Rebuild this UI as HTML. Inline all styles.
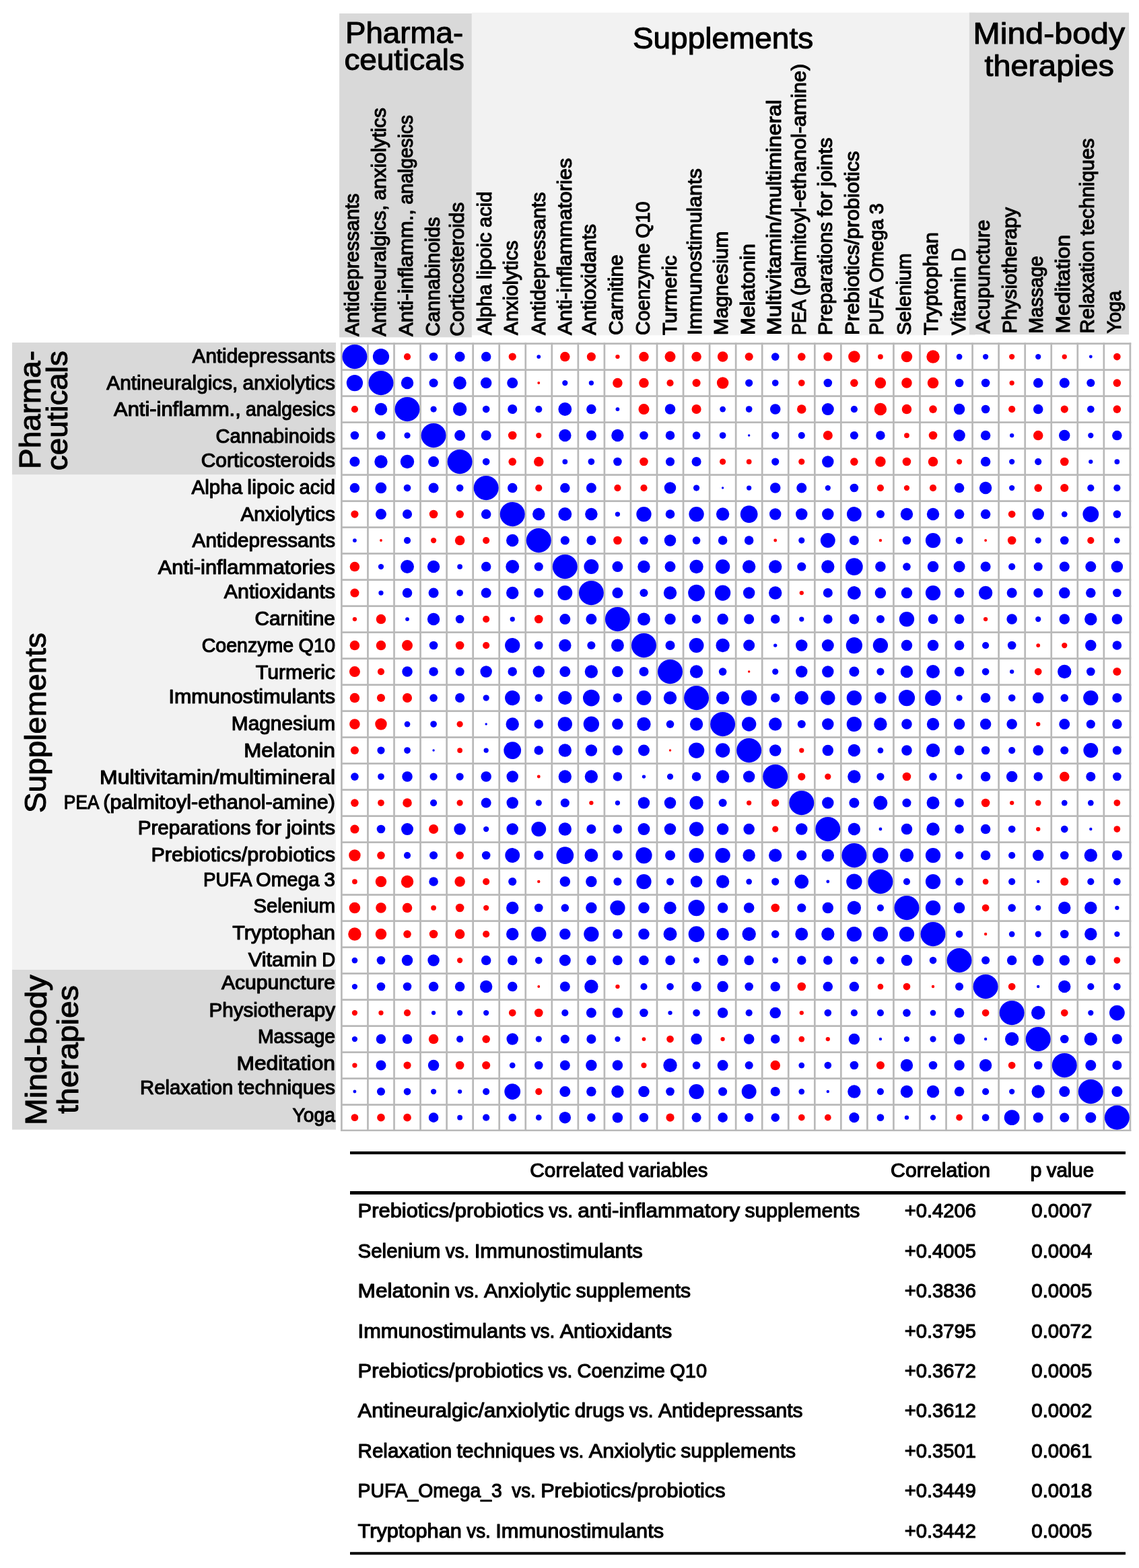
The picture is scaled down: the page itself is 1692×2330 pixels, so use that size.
<!DOCTYPE html>
<html lang="en"><head><meta charset="utf-8"><title>Correlation matrix</title>
<style>
html,body{margin:0;padding:0;background:#fff}
body{width:1692px;height:2330px;overflow:hidden}
svg{display:block}
text{font-family:"Liberation Sans",sans-serif;fill:#000;stroke:#000;stroke-linejoin:round;white-space:pre}
.l{font-size:29px;stroke-width:1.15px}
.c{font-size:29.3px;stroke-width:1.15px}
.t{font-size:43.5px;stroke-width:1.05px}
.b{fill:#0000ff}.r{fill:#ff0000}
.g{stroke:#b9b9b9;stroke-width:2.7;fill:none}
.k{stroke:#000;fill:none}
</style></head><body>
<svg width="1692" height="2330" viewBox="0 0 1692 2330" role="img" aria-label="Correlation matrix of pharmaceuticals, supplements and mind-body therapies">
<rect width="1692" height="2330" fill="#fff"/>
<g id="bands">
<rect x="700.8" y="18.7" width="747.8" height="479.6" fill="#f2f2f2"/>
<rect x="504.1" y="20" width="196.7" height="481.3" fill="#d9d9d9"/>
<rect x="1439.9" y="18.7" width="237.2" height="478.4" fill="#d9d9d9"/>
<rect x="18" y="705.2" width="481" height="736" fill="#f2f2f2"/>
<rect x="18" y="509" width="481" height="196.2" fill="#d9d9d9"/>
<rect x="18" y="1441" width="481" height="237.6" fill="#d9d9d9"/>
</g>
<g id="titles">
<text class="t" x="513" y="64.2" textLength="175.15" lengthAdjust="spacingAndGlyphs">Pharma-</text>
<text class="t" x="511.4" y="104" textLength="178.43" lengthAdjust="spacingAndGlyphs">ceuticals</text>
<text class="t" x="939.9" y="71.5" textLength="268.26" lengthAdjust="spacingAndGlyphs">Supplements</text>
<text class="t" x="1445.5" y="65.2" textLength="225.57" lengthAdjust="spacingAndGlyphs">Mind-body</text>
<text class="t" x="1462.5" y="113.1" textLength="192.48" lengthAdjust="spacingAndGlyphs">therapies</text>
<text class="t" transform="translate(59.7 697) rotate(-90)" x="0" y="0" textLength="176.15" lengthAdjust="spacingAndGlyphs">Pharma-</text>
<text class="t" transform="translate(99.5 699.2) rotate(-90)" x="0" y="0" textLength="178.03" lengthAdjust="spacingAndGlyphs">ceuticals</text>
<text class="t" transform="translate(67.9 1208) rotate(-90)" x="0" y="0" textLength="267.96" lengthAdjust="spacingAndGlyphs">Supplements</text>
<text class="t" transform="translate(68.7 1672.1) rotate(-90)" x="0" y="0" textLength="223.67" lengthAdjust="spacingAndGlyphs">Mind-body</text>
<text class="t" transform="translate(115.6 1655.1) rotate(-90)" x="0" y="0" textLength="191.08" lengthAdjust="spacingAndGlyphs">therapies</text>
</g>
<g id="rows">
<text class="l"><tspan x="285.63" y="538.7" textLength="212.37" lengthAdjust="spacingAndGlyphs">Antidepressants</tspan></text>
<text class="l"><tspan x="158.33" y="578.8" textLength="195" lengthAdjust="spacingAndGlyphs">Antineuralgics,</tspan> <tspan x="360.63" y="578.8" textLength="137.37" lengthAdjust="spacingAndGlyphs">anxiolytics</tspan></text>
<text class="l"><tspan x="169.12" y="617.9" textLength="188.66" lengthAdjust="spacingAndGlyphs">Anti-inflamm.,</tspan> <tspan x="365.09" y="617.9" textLength="132.91" lengthAdjust="spacingAndGlyphs">analgesics</tspan></text>
<text class="l"><tspan x="320.61" y="658.1" textLength="177.39" lengthAdjust="spacingAndGlyphs">Cannabinoids</tspan></text>
<text class="l"><tspan x="298.77" y="694" textLength="199.23" lengthAdjust="spacingAndGlyphs">Corticosteroids</tspan></text>
<text class="l"><tspan x="284.59" y="734.1" textLength="75.49" lengthAdjust="spacingAndGlyphs">Alpha</tspan> <tspan x="367.38" y="734.1" textLength="69.83" lengthAdjust="spacingAndGlyphs">lipoic</tspan> <tspan x="444.51" y="734.1" textLength="53.49" lengthAdjust="spacingAndGlyphs">acid</tspan></text>
<text class="l"><tspan x="357.4" y="773.8" textLength="140.6" lengthAdjust="spacingAndGlyphs">Anxiolytics</tspan></text>
<text class="l"><tspan x="285.63" y="813.3" textLength="212.37" lengthAdjust="spacingAndGlyphs">Antidepressants</tspan></text>
<text class="l"><tspan x="234.85" y="852.9" textLength="263.15" lengthAdjust="spacingAndGlyphs">Anti-inflammatories</tspan></text>
<text class="l"><tspan x="332.88" y="889.3" textLength="165.12" lengthAdjust="spacingAndGlyphs">Antioxidants</tspan></text>
<text class="l"><tspan x="378.43" y="929.2" textLength="119.57" lengthAdjust="spacingAndGlyphs">Carnitine</tspan></text>
<text class="l"><tspan x="299.65" y="968.9" textLength="136.56" lengthAdjust="spacingAndGlyphs">Coenzyme</tspan> <tspan x="443.51" y="968.9" textLength="54.49" lengthAdjust="spacingAndGlyphs">Q10</tspan></text>
<text class="l"><tspan x="379.81" y="1009.4" textLength="118.19" lengthAdjust="spacingAndGlyphs">Turmeric</tspan></text>
<text class="l"><tspan x="250.42" y="1045.4" textLength="247.58" lengthAdjust="spacingAndGlyphs">Immunostimulants</tspan></text>
<text class="l"><tspan x="343.86" y="1084.9" textLength="154.14" lengthAdjust="spacingAndGlyphs">Magnesium</tspan></text>
<text class="l"><tspan x="362.28" y="1125" textLength="135.72" lengthAdjust="spacingAndGlyphs">Melatonin</tspan></text>
<text class="l"><tspan x="148.13" y="1164.5" textLength="349.87" lengthAdjust="spacingAndGlyphs">Multivitamin/multimineral</tspan></text>
<text class="l"><tspan x="94.86" y="1201.5" textLength="51.16" lengthAdjust="spacingAndGlyphs">PEA</tspan> <tspan x="153.33" y="1201.5" textLength="344.67" lengthAdjust="spacingAndGlyphs">(palmitoyl-ethanol-amine)</tspan></text>
<text class="l"><tspan x="204.65" y="1240.3" textLength="168.06" lengthAdjust="spacingAndGlyphs">Preparations</tspan> <tspan x="380.01" y="1240.3" textLength="38.15" lengthAdjust="spacingAndGlyphs">for</tspan> <tspan x="425.45" y="1240.3" textLength="72.55" lengthAdjust="spacingAndGlyphs">joints</tspan></text>
<text class="l"><tspan x="224.45" y="1279.8" textLength="273.55" lengthAdjust="spacingAndGlyphs">Prebiotics/probiotics</tspan></text>
<text class="l"><tspan x="302.1" y="1316.8" textLength="70.96" lengthAdjust="spacingAndGlyphs">PUFA</tspan> <tspan x="380.36" y="1316.8" textLength="93.96" lengthAdjust="spacingAndGlyphs">Omega</tspan> <tspan x="481.62" y="1316.8" textLength="16.38" lengthAdjust="spacingAndGlyphs">3</tspan></text>
<text class="l"><tspan x="376.49" y="1356.2" textLength="121.51" lengthAdjust="spacingAndGlyphs">Selenium</tspan></text>
<text class="l"><tspan x="345.22" y="1396.1" textLength="152.78" lengthAdjust="spacingAndGlyphs">Tryptophan</tspan></text>
<text class="l"><tspan x="368.67" y="1435.8" textLength="102.16" lengthAdjust="spacingAndGlyphs">Vitamin</tspan> <tspan x="478.14" y="1435.8" textLength="19.86" lengthAdjust="spacingAndGlyphs">D</tspan></text>
<text class="l"><tspan x="329.01" y="1470.4" textLength="168.99" lengthAdjust="spacingAndGlyphs">Acupuncture</tspan></text>
<text class="l"><tspan x="310.47" y="1510.5" textLength="187.53" lengthAdjust="spacingAndGlyphs">Physiotherapy</tspan></text>
<text class="l"><tspan x="382.88" y="1550.2" textLength="115.12" lengthAdjust="spacingAndGlyphs">Massage</tspan></text>
<text class="l"><tspan x="351.45" y="1590.1" textLength="146.55" lengthAdjust="spacingAndGlyphs">Meditation</tspan></text>
<text class="l"><tspan x="208.04" y="1625.8" textLength="138.15" lengthAdjust="spacingAndGlyphs">Relaxation</tspan> <tspan x="353.49" y="1625.8" textLength="144.51" lengthAdjust="spacingAndGlyphs">techniques</tspan></text>
<text class="l"><tspan x="434.56" y="1666.6" textLength="63.44" lengthAdjust="spacingAndGlyphs">Yoga</tspan></text>
</g>
<g id="cols">
<text class="l" transform="translate(533.3 499.8) rotate(-90)"><tspan x="0" y="0" textLength="212.37" lengthAdjust="spacingAndGlyphs">Antidepressants</tspan></text>
<text class="l" transform="translate(573 499.8) rotate(-90)"><tspan x="0" y="0" textLength="195" lengthAdjust="spacingAndGlyphs">Antineuralgics,</tspan> <tspan x="202.29" y="0" textLength="137.37" lengthAdjust="spacingAndGlyphs">anxiolytics</tspan></text>
<text class="l" transform="translate(613 499.8) rotate(-90)"><tspan x="0" y="0" textLength="188.66" lengthAdjust="spacingAndGlyphs">Anti-inflamm.,</tspan> <tspan x="195.96" y="0" textLength="132.91" lengthAdjust="spacingAndGlyphs">analgesics</tspan></text>
<text class="l" transform="translate(653.1 499.8) rotate(-90)"><tspan x="0" y="0" textLength="177.39" lengthAdjust="spacingAndGlyphs">Cannabinoids</tspan></text>
<text class="l" transform="translate(689.2 499.8) rotate(-90)"><tspan x="0" y="0" textLength="199.23" lengthAdjust="spacingAndGlyphs">Corticosteroids</tspan></text>
<text class="l" transform="translate(730.2 497.9) rotate(-90)"><tspan x="0" y="0" textLength="75.49" lengthAdjust="spacingAndGlyphs">Alpha</tspan> <tspan x="82.78" y="0" textLength="69.83" lengthAdjust="spacingAndGlyphs">lipoic</tspan> <tspan x="159.92" y="0" textLength="53.49" lengthAdjust="spacingAndGlyphs">acid</tspan></text>
<text class="l" transform="translate(768.8 497.9) rotate(-90)"><tspan x="0" y="0" textLength="140.6" lengthAdjust="spacingAndGlyphs">Anxiolytics</tspan></text>
<text class="l" transform="translate(809.8 497.9) rotate(-90)"><tspan x="0" y="0" textLength="212.37" lengthAdjust="spacingAndGlyphs">Antidepressants</tspan></text>
<text class="l" transform="translate(849.3 497.9) rotate(-90)"><tspan x="0" y="0" textLength="263.15" lengthAdjust="spacingAndGlyphs">Anti-inflammatories</tspan></text>
<text class="l" transform="translate(885.2 497.9) rotate(-90)"><tspan x="0" y="0" textLength="165.12" lengthAdjust="spacingAndGlyphs">Antioxidants</tspan></text>
<text class="l" transform="translate(924.9 497.9) rotate(-90)"><tspan x="0" y="0" textLength="119.57" lengthAdjust="spacingAndGlyphs">Carnitine</tspan></text>
<text class="l" transform="translate(965.4 497.9) rotate(-90)"><tspan x="0" y="0" textLength="136.56" lengthAdjust="spacingAndGlyphs">Coenzyme</tspan> <tspan x="143.86" y="0" textLength="54.49" lengthAdjust="spacingAndGlyphs">Q10</tspan></text>
<text class="l" transform="translate(1005.1 497.9) rotate(-90)"><tspan x="0" y="0" textLength="118.19" lengthAdjust="spacingAndGlyphs">Turmeric</tspan></text>
<text class="l" transform="translate(1041.5 497.9) rotate(-90)"><tspan x="0" y="0" textLength="247.58" lengthAdjust="spacingAndGlyphs">Immunostimulants</tspan></text>
<text class="l" transform="translate(1081.1 497.9) rotate(-90)"><tspan x="0" y="0" textLength="154.14" lengthAdjust="spacingAndGlyphs">Magnesium</tspan></text>
<text class="l" transform="translate(1121.1 497.9) rotate(-90)"><tspan x="0" y="0" textLength="135.72" lengthAdjust="spacingAndGlyphs">Melatonin</tspan></text>
<text class="l" transform="translate(1160.3 497.9) rotate(-90)"><tspan x="0" y="0" textLength="349.87" lengthAdjust="spacingAndGlyphs">Multivitamin/multimineral</tspan></text>
<text class="l" transform="translate(1197.1 497.9) rotate(-90)"><tspan x="0" y="0" textLength="51.16" lengthAdjust="spacingAndGlyphs">PEA</tspan> <tspan x="58.46" y="0" textLength="344.67" lengthAdjust="spacingAndGlyphs">(palmitoyl-ethanol-amine)</tspan></text>
<text class="l" transform="translate(1236.2 497.9) rotate(-90)"><tspan x="0" y="0" textLength="168.06" lengthAdjust="spacingAndGlyphs">Preparations</tspan> <tspan x="175.36" y="0" textLength="38.15" lengthAdjust="spacingAndGlyphs">for</tspan> <tspan x="220.8" y="0" textLength="72.55" lengthAdjust="spacingAndGlyphs">joints</tspan></text>
<text class="l" transform="translate(1276 497.9) rotate(-90)"><tspan x="0" y="0" textLength="273.55" lengthAdjust="spacingAndGlyphs">Prebiotics/probiotics</tspan></text>
<text class="l" transform="translate(1312 497.9) rotate(-90)"><tspan x="0" y="0" textLength="70.96" lengthAdjust="spacingAndGlyphs">PUFA</tspan> <tspan x="78.26" y="0" textLength="93.96" lengthAdjust="spacingAndGlyphs">Omega</tspan> <tspan x="179.52" y="0" textLength="16.38" lengthAdjust="spacingAndGlyphs">3</tspan></text>
<text class="l" transform="translate(1352.5 497.9) rotate(-90)"><tspan x="0" y="0" textLength="121.51" lengthAdjust="spacingAndGlyphs">Selenium</tspan></text>
<text class="l" transform="translate(1392.9 497.9) rotate(-90)"><tspan x="0" y="0" textLength="152.78" lengthAdjust="spacingAndGlyphs">Tryptophan</tspan></text>
<text class="l" transform="translate(1433.5 497.9) rotate(-90)"><tspan x="0" y="0" textLength="102.16" lengthAdjust="spacingAndGlyphs">Vitamin</tspan> <tspan x="109.46" y="0" textLength="19.86" lengthAdjust="spacingAndGlyphs">D</tspan></text>
<text class="l" transform="translate(1469.5 495.4) rotate(-90)"><tspan x="0" y="0" textLength="168.99" lengthAdjust="spacingAndGlyphs">Acupuncture</tspan></text>
<text class="l" transform="translate(1509.6 495.4) rotate(-90)"><tspan x="0" y="0" textLength="187.53" lengthAdjust="spacingAndGlyphs">Physiotherapy</tspan></text>
<text class="l" transform="translate(1549.3 495.4) rotate(-90)"><tspan x="0" y="0" textLength="115.12" lengthAdjust="spacingAndGlyphs">Massage</tspan></text>
<text class="l" transform="translate(1589.4 495.4) rotate(-90)"><tspan x="0" y="0" textLength="146.55" lengthAdjust="spacingAndGlyphs">Meditation</tspan></text>
<text class="l" transform="translate(1625.3 495.4) rotate(-90)"><tspan x="0" y="0" textLength="138.15" lengthAdjust="spacingAndGlyphs">Relaxation</tspan> <tspan x="145.45" y="0" textLength="144.51" lengthAdjust="spacingAndGlyphs">techniques</tspan></text>
<text class="l" transform="translate(1665.3 495.4) rotate(-90)"><tspan x="0" y="0" textLength="63.44" lengthAdjust="spacingAndGlyphs">Yoga</tspan></text>
</g>
<g id="grid">
<rect x="507.4" y="510.55" width="1171.5" height="1169.2" fill="#fff"/>
<path class="g" d="M506.05 510.55H1680.25M506.05 549.55H1680.25M506.05 588.55H1680.25M506.05 627.55H1680.25M506.05 666.55H1680.25M506.05 705.55H1680.25M506.05 744.55H1680.25M506.05 783.55H1680.25M506.05 822.55H1680.25M506.05 861.55H1680.25M506.05 900.55H1680.25M506.05 939.55H1680.25M506.05 978.55H1680.25M506.05 1017.55H1680.25M506.05 1056.55H1680.25M506.05 1095.55H1680.25M506.05 1134.55H1680.25M506.05 1173.55H1680.25M506.05 1212.55H1680.25M506.05 1251.55H1680.25M506.05 1290.55H1680.25M506.05 1329.55H1680.25M506.05 1368.55H1680.25M506.05 1407.55H1680.25M506.05 1446.55H1680.25M506.05 1485.55H1680.25M506.05 1524.55H1680.25M506.05 1563.55H1680.25M506.05 1602.55H1680.25M506.05 1641.55H1680.25M506.05 1679.75H1680.25"/>
<path class="g" stroke-width="2.5" d="M507.4 509.2V1681.1M546.45 509.2V1681.1M585.5 509.2V1681.1M624.55 509.2V1681.1M663.6 509.2V1681.1M702.65 509.2V1681.1M741.7 509.2V1681.1M780.75 509.2V1681.1M819.8 509.2V1681.1M858.85 509.2V1681.1M897.9 509.2V1681.1M936.95 509.2V1681.1M976 509.2V1681.1M1015.05 509.2V1681.1M1054.1 509.2V1681.1M1093.15 509.2V1681.1M1132.2 509.2V1681.1M1171.25 509.2V1681.1M1210.3 509.2V1681.1M1249.35 509.2V1681.1M1288.4 509.2V1681.1M1327.45 509.2V1681.1M1366.5 509.2V1681.1M1405.55 509.2V1681.1M1444.6 509.2V1681.1M1483.65 509.2V1681.1M1522.7 509.2V1681.1M1561.75 509.2V1681.1M1600.8 509.2V1681.1M1639.85 509.2V1681.1M1678.9 509.2V1681.1"/>
</g>
<g id="dots">
<ellipse class="b" cx="526.92" cy="530.05" rx="18.5" ry="18.1"/><circle class="b" cx="565.97" cy="530.05" r="12.14"/><circle class="r" cx="605.02" cy="530.05" r="5.1"/><circle class="b" cx="644.07" cy="530.05" r="6.31"/><circle class="b" cx="683.12" cy="530.05" r="7.53"/><circle class="b" cx="722.17" cy="530.05" r="7.29"/><circle class="r" cx="761.22" cy="530.05" r="5.59"/><circle class="b" cx="800.27" cy="530.05" r="2.91"/><circle class="r" cx="839.32" cy="530.05" r="7.29"/><circle class="r" cx="878.38" cy="530.05" r="6.56"/><circle class="r" cx="917.42" cy="530.05" r="3.16"/><circle class="r" cx="956.47" cy="530.05" r="7.29"/><circle class="r" cx="995.52" cy="530.05" r="8.01"/><circle class="r" cx="1034.57" cy="530.05" r="7.29"/><circle class="r" cx="1073.62" cy="530.05" r="7.77"/><circle class="r" cx="1112.67" cy="530.05" r="6.07"/><circle class="b" cx="1151.72" cy="530.05" r="5.83"/><circle class="r" cx="1190.78" cy="530.05" r="5.83"/><circle class="r" cx="1229.82" cy="530.05" r="6.56"/><circle class="r" cx="1268.88" cy="530.05" r="8.74"/><circle class="r" cx="1307.92" cy="530.05" r="3.89"/><circle class="r" cx="1346.97" cy="530.05" r="8.26"/><circle class="r" cx="1386.03" cy="530.05" r="9.71"/><circle class="b" cx="1425.07" cy="530.05" r="4.37"/><circle class="b" cx="1464.12" cy="530.05" r="4.13"/><circle class="r" cx="1503.17" cy="530.05" r="4.13"/><circle class="b" cx="1542.22" cy="530.05" r="4.13"/><circle class="r" cx="1581.27" cy="530.05" r="3.64"/><circle class="b" cx="1620.32" cy="530.05" r="2.43"/><circle class="r" cx="1659.38" cy="530.05" r="5.34"/>
<circle class="b" cx="526.92" cy="569.05" r="12.14"/><ellipse class="b" cx="565.97" cy="569.05" rx="18.5" ry="18.1"/><circle class="b" cx="605.02" cy="569.05" r="9.23"/><circle class="b" cx="644.07" cy="569.05" r="6.56"/><circle class="b" cx="683.12" cy="569.05" r="9.71"/><circle class="b" cx="722.17" cy="569.05" r="8.26"/><circle class="b" cx="761.22" cy="569.05" r="8.01"/><circle class="r" cx="800.27" cy="569.05" r="1.94"/><circle class="b" cx="839.32" cy="569.05" r="4.13"/><circle class="b" cx="878.38" cy="569.05" r="3.64"/><circle class="r" cx="917.42" cy="569.05" r="7.29"/><circle class="r" cx="956.47" cy="569.05" r="7.29"/><circle class="r" cx="995.52" cy="569.05" r="5.1"/><circle class="r" cx="1034.57" cy="569.05" r="6.07"/><circle class="r" cx="1073.62" cy="569.05" r="8.74"/><circle class="b" cx="1112.67" cy="569.05" r="5.59"/><circle class="b" cx="1151.72" cy="569.05" r="4.86"/><circle class="r" cx="1190.78" cy="569.05" r="4.86"/><circle class="b" cx="1229.82" cy="569.05" r="6.31"/><circle class="r" cx="1268.88" cy="569.05" r="5.83"/><circle class="r" cx="1307.92" cy="569.05" r="8.26"/><circle class="r" cx="1346.97" cy="569.05" r="7.77"/><circle class="r" cx="1386.03" cy="569.05" r="8.26"/><circle class="b" cx="1425.07" cy="569.05" r="6.31"/><circle class="b" cx="1464.12" cy="569.05" r="6.31"/><circle class="r" cx="1503.17" cy="569.05" r="3.64"/><circle class="b" cx="1542.22" cy="569.05" r="7.29"/><circle class="b" cx="1581.27" cy="569.05" r="7.53"/><circle class="b" cx="1620.32" cy="569.05" r="6.07"/><circle class="r" cx="1659.38" cy="569.05" r="5.83"/>
<circle class="r" cx="526.92" cy="608.05" r="5.1"/><circle class="b" cx="565.97" cy="608.05" r="9.23"/><ellipse class="b" cx="605.02" cy="608.05" rx="18.5" ry="18.1"/><circle class="b" cx="644.07" cy="608.05" r="4.61"/><circle class="b" cx="683.12" cy="608.05" r="10.2"/><circle class="b" cx="722.17" cy="608.05" r="5.34"/><circle class="b" cx="761.22" cy="608.05" r="7.04"/><circle class="b" cx="800.27" cy="608.05" r="5.1"/><circle class="b" cx="839.32" cy="608.05" r="9.96"/><circle class="b" cx="878.38" cy="608.05" r="7.29"/><circle class="b" cx="917.42" cy="608.05" r="2.91"/><circle class="r" cx="956.47" cy="608.05" r="8.01"/><circle class="b" cx="995.52" cy="608.05" r="7.77"/><circle class="r" cx="1034.57" cy="608.05" r="7.04"/><circle class="b" cx="1073.62" cy="608.05" r="4.37"/><circle class="b" cx="1112.67" cy="608.05" r="4.86"/><circle class="b" cx="1151.72" cy="608.05" r="7.77"/><circle class="r" cx="1190.78" cy="608.05" r="6.8"/><circle class="b" cx="1229.82" cy="608.05" r="8.99"/><circle class="b" cx="1268.88" cy="608.05" r="5.1"/><circle class="r" cx="1307.92" cy="608.05" r="9.23"/><circle class="r" cx="1346.97" cy="608.05" r="7.29"/><circle class="r" cx="1386.03" cy="608.05" r="5.83"/><circle class="b" cx="1425.07" cy="608.05" r="8.26"/><circle class="b" cx="1464.12" cy="608.05" r="6.31"/><circle class="r" cx="1503.17" cy="608.05" r="5.1"/><circle class="b" cx="1542.22" cy="608.05" r="7.29"/><circle class="r" cx="1581.27" cy="608.05" r="5.59"/><circle class="b" cx="1620.32" cy="608.05" r="5.34"/><circle class="r" cx="1659.38" cy="608.05" r="5.83"/>
<circle class="b" cx="526.92" cy="647.05" r="6.31"/><circle class="b" cx="565.97" cy="647.05" r="6.56"/><circle class="b" cx="605.02" cy="647.05" r="4.61"/><ellipse class="b" cx="644.07" cy="647.05" rx="18.5" ry="18.1"/><circle class="b" cx="683.12" cy="647.05" r="8.01"/><circle class="b" cx="722.17" cy="647.05" r="7.53"/><circle class="r" cx="761.22" cy="647.05" r="6.31"/><circle class="r" cx="800.27" cy="647.05" r="4.13"/><circle class="b" cx="839.32" cy="647.05" r="9.23"/><circle class="b" cx="878.38" cy="647.05" r="7.53"/><circle class="b" cx="917.42" cy="647.05" r="9.23"/><circle class="b" cx="956.47" cy="647.05" r="6.31"/><circle class="b" cx="995.52" cy="647.05" r="6.8"/><circle class="b" cx="1034.57" cy="647.05" r="5.83"/><circle class="b" cx="1073.62" cy="647.05" r="4.86"/><circle class="b" cx="1112.67" cy="647.05" r="1.7"/><circle class="b" cx="1151.72" cy="647.05" r="5.59"/><circle class="b" cx="1190.78" cy="647.05" r="5.1"/><circle class="r" cx="1229.82" cy="647.05" r="7.04"/><circle class="b" cx="1268.88" cy="647.05" r="6.07"/><circle class="b" cx="1307.92" cy="647.05" r="6.8"/><circle class="r" cx="1346.97" cy="647.05" r="3.89"/><circle class="r" cx="1386.03" cy="647.05" r="6.31"/><circle class="b" cx="1425.07" cy="647.05" r="8.74"/><circle class="b" cx="1464.12" cy="647.05" r="7.29"/><circle class="b" cx="1503.17" cy="647.05" r="3.16"/><circle class="r" cx="1542.22" cy="647.05" r="7.29"/><circle class="b" cx="1581.27" cy="647.05" r="8.26"/><circle class="b" cx="1620.32" cy="647.05" r="4.13"/><circle class="b" cx="1659.38" cy="647.05" r="7.29"/>
<circle class="b" cx="526.92" cy="686.05" r="7.53"/><circle class="b" cx="565.97" cy="686.05" r="9.71"/><circle class="b" cx="605.02" cy="686.05" r="10.2"/><circle class="b" cx="644.07" cy="686.05" r="8.01"/><ellipse class="b" cx="683.12" cy="686.05" rx="18.5" ry="18.1"/><circle class="b" cx="722.17" cy="686.05" r="5.34"/><circle class="r" cx="761.22" cy="686.05" r="5.83"/><circle class="r" cx="800.27" cy="686.05" r="7.29"/><circle class="b" cx="839.32" cy="686.05" r="3.89"/><circle class="b" cx="878.38" cy="686.05" r="4.86"/><circle class="b" cx="917.42" cy="686.05" r="6.31"/><circle class="r" cx="956.47" cy="686.05" r="6.31"/><circle class="b" cx="995.52" cy="686.05" r="6.56"/><circle class="b" cx="1034.57" cy="686.05" r="7.04"/><circle class="r" cx="1073.62" cy="686.05" r="4.61"/><circle class="r" cx="1112.67" cy="686.05" r="3.89"/><circle class="b" cx="1151.72" cy="686.05" r="5.59"/><circle class="r" cx="1190.78" cy="686.05" r="4.61"/><circle class="b" cx="1229.82" cy="686.05" r="8.74"/><circle class="r" cx="1268.88" cy="686.05" r="5.83"/><circle class="r" cx="1307.92" cy="686.05" r="7.77"/><circle class="r" cx="1346.97" cy="686.05" r="6.31"/><circle class="r" cx="1386.03" cy="686.05" r="7.29"/><circle class="r" cx="1425.07" cy="686.05" r="4.13"/><circle class="b" cx="1464.12" cy="686.05" r="7.29"/><circle class="b" cx="1503.17" cy="686.05" r="4.13"/><circle class="b" cx="1542.22" cy="686.05" r="5.1"/><circle class="r" cx="1581.27" cy="686.05" r="6.31"/><circle class="b" cx="1620.32" cy="686.05" r="3.16"/><circle class="b" cx="1659.38" cy="686.05" r="3.89"/>
<circle class="b" cx="526.92" cy="725.05" r="7.29"/><circle class="b" cx="565.97" cy="725.05" r="8.26"/><circle class="b" cx="605.02" cy="725.05" r="5.34"/><circle class="b" cx="644.07" cy="725.05" r="7.53"/><circle class="b" cx="683.12" cy="725.05" r="5.34"/><ellipse class="b" cx="722.17" cy="725.05" rx="18.5" ry="18.1"/><circle class="b" cx="761.22" cy="725.05" r="7.29"/><circle class="r" cx="800.27" cy="725.05" r="5.1"/><circle class="b" cx="839.32" cy="725.05" r="7.29"/><circle class="b" cx="878.38" cy="725.05" r="7.53"/><circle class="r" cx="917.42" cy="725.05" r="5.1"/><circle class="r" cx="956.47" cy="725.05" r="5.1"/><circle class="b" cx="995.52" cy="725.05" r="8.74"/><circle class="b" cx="1034.57" cy="725.05" r="4.61"/><circle class="b" cx="1073.62" cy="725.05" r="1.7"/><circle class="b" cx="1112.67" cy="725.05" r="3.64"/><circle class="b" cx="1151.72" cy="725.05" r="7.77"/><circle class="b" cx="1190.78" cy="725.05" r="7.53"/><circle class="b" cx="1229.82" cy="725.05" r="4.13"/><circle class="b" cx="1268.88" cy="725.05" r="6.31"/><circle class="r" cx="1307.92" cy="725.05" r="5.1"/><circle class="r" cx="1346.97" cy="725.05" r="4.13"/><circle class="r" cx="1386.03" cy="725.05" r="5.1"/><circle class="b" cx="1425.07" cy="725.05" r="7.29"/><circle class="b" cx="1464.12" cy="725.05" r="9.23"/><circle class="b" cx="1503.17" cy="725.05" r="4.13"/><circle class="r" cx="1542.22" cy="725.05" r="5.83"/><circle class="r" cx="1581.27" cy="725.05" r="6.07"/><circle class="b" cx="1620.32" cy="725.05" r="5.1"/><circle class="b" cx="1659.38" cy="725.05" r="5.1"/>
<circle class="r" cx="526.92" cy="764.05" r="5.59"/><circle class="b" cx="565.97" cy="764.05" r="8.01"/><circle class="b" cx="605.02" cy="764.05" r="7.04"/><circle class="r" cx="644.07" cy="764.05" r="6.31"/><circle class="r" cx="683.12" cy="764.05" r="5.83"/><circle class="b" cx="722.17" cy="764.05" r="7.29"/><ellipse class="b" cx="761.22" cy="764.05" rx="18.5" ry="18.1"/><circle class="b" cx="800.27" cy="764.05" r="9.23"/><circle class="b" cx="839.32" cy="764.05" r="9.96"/><circle class="b" cx="878.38" cy="764.05" r="9.23"/><circle class="b" cx="917.42" cy="764.05" r="3.64"/><circle class="b" cx="956.47" cy="764.05" r="11.17"/><circle class="b" cx="995.52" cy="764.05" r="6.8"/><circle class="b" cx="1034.57" cy="764.05" r="11.17"/><circle class="b" cx="1073.62" cy="764.05" r="9.71"/><circle class="b" cx="1112.67" cy="764.05" r="12.87"/><circle class="b" cx="1151.72" cy="764.05" r="8.74"/><circle class="b" cx="1190.78" cy="764.05" r="8.74"/><circle class="b" cx="1229.82" cy="764.05" r="8.74"/><circle class="b" cx="1268.88" cy="764.05" r="10.93"/><circle class="b" cx="1307.92" cy="764.05" r="6.07"/><circle class="b" cx="1346.97" cy="764.05" r="9.23"/><circle class="b" cx="1386.03" cy="764.05" r="9.23"/><circle class="b" cx="1425.07" cy="764.05" r="7.29"/><circle class="b" cx="1464.12" cy="764.05" r="7.29"/><circle class="r" cx="1503.17" cy="764.05" r="5.34"/><circle class="b" cx="1542.22" cy="764.05" r="8.74"/><circle class="b" cx="1581.27" cy="764.05" r="4.37"/><circle class="b" cx="1620.32" cy="764.05" r="11.9"/><circle class="b" cx="1659.38" cy="764.05" r="5.83"/>
<circle class="b" cx="526.92" cy="803.05" r="2.91"/><circle class="r" cx="565.97" cy="803.05" r="1.94"/><circle class="b" cx="605.02" cy="803.05" r="5.1"/><circle class="r" cx="644.07" cy="803.05" r="4.13"/><circle class="r" cx="683.12" cy="803.05" r="7.29"/><circle class="r" cx="722.17" cy="803.05" r="5.1"/><circle class="b" cx="761.22" cy="803.05" r="9.23"/><ellipse class="b" cx="800.27" cy="803.05" rx="18.5" ry="18.1"/><circle class="b" cx="839.32" cy="803.05" r="6.56"/><circle class="b" cx="878.38" cy="803.05" r="7.04"/><circle class="r" cx="917.42" cy="803.05" r="6.31"/><circle class="b" cx="956.47" cy="803.05" r="6.31"/><circle class="b" cx="995.52" cy="803.05" r="8.74"/><circle class="b" cx="1034.57" cy="803.05" r="5.83"/><circle class="b" cx="1073.62" cy="803.05" r="6.8"/><circle class="b" cx="1112.67" cy="803.05" r="6.8"/><circle class="r" cx="1151.72" cy="803.05" r="2.43"/><circle class="b" cx="1190.78" cy="803.05" r="4.61"/><circle class="b" cx="1229.82" cy="803.05" r="10.93"/><circle class="b" cx="1268.88" cy="803.05" r="7.04"/><circle class="r" cx="1307.92" cy="803.05" r="2.19"/><circle class="b" cx="1346.97" cy="803.05" r="6.31"/><circle class="b" cx="1386.03" cy="803.05" r="11.17"/><circle class="b" cx="1425.07" cy="803.05" r="5.34"/><circle class="r" cx="1464.12" cy="803.05" r="1.94"/><circle class="r" cx="1503.17" cy="803.05" r="6.31"/><circle class="b" cx="1542.22" cy="803.05" r="4.61"/><circle class="b" cx="1581.27" cy="803.05" r="6.31"/><circle class="r" cx="1620.32" cy="803.05" r="5.1"/><circle class="b" cx="1659.38" cy="803.05" r="4.37"/>
<circle class="r" cx="526.92" cy="842.05" r="7.29"/><circle class="b" cx="565.97" cy="842.05" r="4.13"/><circle class="b" cx="605.02" cy="842.05" r="9.96"/><circle class="b" cx="644.07" cy="842.05" r="9.23"/><circle class="b" cx="683.12" cy="842.05" r="3.89"/><circle class="b" cx="722.17" cy="842.05" r="7.29"/><circle class="b" cx="761.22" cy="842.05" r="9.96"/><circle class="b" cx="800.27" cy="842.05" r="6.56"/><ellipse class="b" cx="839.32" cy="842.05" rx="18.5" ry="18.1"/><circle class="b" cx="878.38" cy="842.05" r="10.93"/><circle class="b" cx="917.42" cy="842.05" r="8.01"/><circle class="b" cx="956.47" cy="842.05" r="9.23"/><circle class="b" cx="995.52" cy="842.05" r="8.01"/><circle class="b" cx="1034.57" cy="842.05" r="10.2"/><circle class="b" cx="1073.62" cy="842.05" r="10.69"/><circle class="b" cx="1112.67" cy="842.05" r="9.71"/><circle class="b" cx="1151.72" cy="842.05" r="9.71"/><circle class="b" cx="1190.78" cy="842.05" r="6.56"/><circle class="b" cx="1229.82" cy="842.05" r="9.71"/><circle class="b" cx="1268.88" cy="842.05" r="12.87"/><circle class="b" cx="1307.92" cy="842.05" r="7.77"/><circle class="b" cx="1346.97" cy="842.05" r="5.83"/><circle class="b" cx="1386.03" cy="842.05" r="8.26"/><circle class="b" cx="1425.07" cy="842.05" r="8.5"/><circle class="b" cx="1464.12" cy="842.05" r="7.53"/><circle class="b" cx="1503.17" cy="842.05" r="5.1"/><circle class="b" cx="1542.22" cy="842.05" r="6.56"/><circle class="b" cx="1581.27" cy="842.05" r="7.53"/><circle class="b" cx="1620.32" cy="842.05" r="8.01"/><circle class="b" cx="1659.38" cy="842.05" r="8.74"/>
<circle class="r" cx="526.92" cy="881.05" r="6.56"/><circle class="b" cx="565.97" cy="881.05" r="3.64"/><circle class="b" cx="605.02" cy="881.05" r="7.29"/><circle class="b" cx="644.07" cy="881.05" r="7.53"/><circle class="b" cx="683.12" cy="881.05" r="4.86"/><circle class="b" cx="722.17" cy="881.05" r="7.53"/><circle class="b" cx="761.22" cy="881.05" r="9.23"/><circle class="b" cx="800.27" cy="881.05" r="7.04"/><circle class="b" cx="839.32" cy="881.05" r="10.93"/><ellipse class="b" cx="878.38" cy="881.05" rx="18.5" ry="18.1"/><circle class="b" cx="917.42" cy="881.05" r="8.01"/><circle class="b" cx="956.47" cy="881.05" r="6.07"/><circle class="b" cx="995.52" cy="881.05" r="9.71"/><circle class="b" cx="1034.57" cy="881.05" r="12.39"/><circle class="b" cx="1073.62" cy="881.05" r="11.66"/><circle class="b" cx="1112.67" cy="881.05" r="8.74"/><circle class="b" cx="1151.72" cy="881.05" r="9.71"/><circle class="r" cx="1190.78" cy="881.05" r="3.16"/><circle class="b" cx="1229.82" cy="881.05" r="7.04"/><circle class="b" cx="1268.88" cy="881.05" r="9.96"/><circle class="b" cx="1307.92" cy="881.05" r="8.26"/><circle class="b" cx="1346.97" cy="881.05" r="8.26"/><circle class="b" cx="1386.03" cy="881.05" r="11.17"/><circle class="b" cx="1425.07" cy="881.05" r="7.29"/><circle class="b" cx="1464.12" cy="881.05" r="10.2"/><circle class="b" cx="1503.17" cy="881.05" r="7.53"/><circle class="b" cx="1542.22" cy="881.05" r="7.04"/><circle class="b" cx="1581.27" cy="881.05" r="8.26"/><circle class="b" cx="1620.32" cy="881.05" r="7.29"/><circle class="b" cx="1659.38" cy="881.05" r="6.31"/>
<circle class="r" cx="526.92" cy="920.05" r="3.16"/><circle class="r" cx="565.97" cy="920.05" r="7.29"/><circle class="b" cx="605.02" cy="920.05" r="2.91"/><circle class="b" cx="644.07" cy="920.05" r="9.23"/><circle class="b" cx="683.12" cy="920.05" r="6.31"/><circle class="r" cx="722.17" cy="920.05" r="5.1"/><circle class="b" cx="761.22" cy="920.05" r="3.64"/><circle class="r" cx="800.27" cy="920.05" r="6.31"/><circle class="b" cx="839.32" cy="920.05" r="8.01"/><circle class="b" cx="878.38" cy="920.05" r="8.01"/><ellipse class="b" cx="917.42" cy="920.05" rx="18.5" ry="18.1"/><circle class="b" cx="956.47" cy="920.05" r="9.47"/><circle class="b" cx="995.52" cy="920.05" r="8.26"/><circle class="b" cx="1034.57" cy="920.05" r="6.8"/><circle class="b" cx="1073.62" cy="920.05" r="8.26"/><circle class="b" cx="1112.67" cy="920.05" r="7.53"/><circle class="b" cx="1151.72" cy="920.05" r="6.8"/><circle class="b" cx="1190.78" cy="920.05" r="3.64"/><circle class="b" cx="1229.82" cy="920.05" r="6.8"/><circle class="b" cx="1268.88" cy="920.05" r="7.53"/><circle class="b" cx="1307.92" cy="920.05" r="6.07"/><circle class="b" cx="1346.97" cy="920.05" r="11.17"/><circle class="b" cx="1386.03" cy="920.05" r="7.29"/><circle class="b" cx="1425.07" cy="920.05" r="7.29"/><circle class="r" cx="1464.12" cy="920.05" r="3.16"/><circle class="b" cx="1503.17" cy="920.05" r="7.77"/><circle class="b" cx="1542.22" cy="920.05" r="4.13"/><circle class="b" cx="1581.27" cy="920.05" r="7.77"/><circle class="b" cx="1620.32" cy="920.05" r="9.23"/><circle class="b" cx="1659.38" cy="920.05" r="7.77"/>
<circle class="r" cx="526.92" cy="959.05" r="7.29"/><circle class="r" cx="565.97" cy="959.05" r="7.29"/><circle class="r" cx="605.02" cy="959.05" r="8.01"/><circle class="b" cx="644.07" cy="959.05" r="6.31"/><circle class="r" cx="683.12" cy="959.05" r="6.31"/><circle class="r" cx="722.17" cy="959.05" r="5.1"/><circle class="b" cx="761.22" cy="959.05" r="11.17"/><circle class="b" cx="800.27" cy="959.05" r="6.31"/><circle class="b" cx="839.32" cy="959.05" r="9.23"/><circle class="b" cx="878.38" cy="959.05" r="6.07"/><circle class="b" cx="917.42" cy="959.05" r="9.47"/><ellipse class="b" cx="956.47" cy="959.05" rx="18.5" ry="18.1"/><circle class="b" cx="995.52" cy="959.05" r="7.04"/><circle class="b" cx="1034.57" cy="959.05" r="10.93"/><circle class="b" cx="1073.62" cy="959.05" r="10.2"/><circle class="b" cx="1112.67" cy="959.05" r="8.5"/><circle class="b" cx="1151.72" cy="959.05" r="2.67"/><circle class="b" cx="1190.78" cy="959.05" r="8.74"/><circle class="b" cx="1229.82" cy="959.05" r="8.99"/><circle class="b" cx="1268.88" cy="959.05" r="12.14"/><circle class="b" cx="1307.92" cy="959.05" r="11.17"/><circle class="b" cx="1346.97" cy="959.05" r="8.26"/><circle class="b" cx="1386.03" cy="959.05" r="8.26"/><circle class="b" cx="1425.07" cy="959.05" r="7.29"/><circle class="b" cx="1464.12" cy="959.05" r="5.1"/><circle class="b" cx="1503.17" cy="959.05" r="6.31"/><circle class="r" cx="1542.22" cy="959.05" r="2.91"/><circle class="r" cx="1581.27" cy="959.05" r="4.13"/><circle class="b" cx="1620.32" cy="959.05" r="8.26"/><circle class="b" cx="1659.38" cy="959.05" r="6.8"/>
<circle class="r" cx="526.92" cy="998.05" r="8.01"/><circle class="r" cx="565.97" cy="998.05" r="5.1"/><circle class="b" cx="605.02" cy="998.05" r="7.77"/><circle class="b" cx="644.07" cy="998.05" r="6.8"/><circle class="b" cx="683.12" cy="998.05" r="6.56"/><circle class="b" cx="722.17" cy="998.05" r="8.74"/><circle class="b" cx="761.22" cy="998.05" r="6.8"/><circle class="b" cx="800.27" cy="998.05" r="8.74"/><circle class="b" cx="839.32" cy="998.05" r="8.01"/><circle class="b" cx="878.38" cy="998.05" r="9.71"/><circle class="b" cx="917.42" cy="998.05" r="8.26"/><circle class="b" cx="956.47" cy="998.05" r="7.04"/><ellipse class="b" cx="995.52" cy="998.05" rx="18.5" ry="18.1"/><circle class="b" cx="1034.57" cy="998.05" r="9.71"/><circle class="b" cx="1073.62" cy="998.05" r="5.83"/><circle class="r" cx="1112.67" cy="998.05" r="1.7"/><circle class="b" cx="1151.72" cy="998.05" r="4.61"/><circle class="b" cx="1190.78" cy="998.05" r="8.74"/><circle class="b" cx="1229.82" cy="998.05" r="8.74"/><circle class="b" cx="1268.88" cy="998.05" r="7.53"/><circle class="b" cx="1307.92" cy="998.05" r="5.59"/><circle class="b" cx="1346.97" cy="998.05" r="9.23"/><circle class="b" cx="1386.03" cy="998.05" r="9.96"/><circle class="b" cx="1425.07" cy="998.05" r="7.29"/><circle class="b" cx="1464.12" cy="998.05" r="5.34"/><circle class="b" cx="1503.17" cy="998.05" r="3.16"/><circle class="r" cx="1542.22" cy="998.05" r="5.34"/><circle class="b" cx="1581.27" cy="998.05" r="10.2"/><circle class="b" cx="1620.32" cy="998.05" r="6.31"/><circle class="r" cx="1659.38" cy="998.05" r="6.07"/>
<circle class="r" cx="526.92" cy="1037.05" r="7.29"/><circle class="r" cx="565.97" cy="1037.05" r="6.07"/><circle class="r" cx="605.02" cy="1037.05" r="7.04"/><circle class="b" cx="644.07" cy="1037.05" r="5.83"/><circle class="b" cx="683.12" cy="1037.05" r="7.04"/><circle class="b" cx="722.17" cy="1037.05" r="4.61"/><circle class="b" cx="761.22" cy="1037.05" r="11.17"/><circle class="b" cx="800.27" cy="1037.05" r="5.83"/><circle class="b" cx="839.32" cy="1037.05" r="10.2"/><circle class="b" cx="878.38" cy="1037.05" r="12.39"/><circle class="b" cx="917.42" cy="1037.05" r="6.8"/><circle class="b" cx="956.47" cy="1037.05" r="10.93"/><circle class="b" cx="995.52" cy="1037.05" r="9.71"/><ellipse class="b" cx="1034.57" cy="1037.05" rx="18.5" ry="18.1"/><circle class="b" cx="1073.62" cy="1037.05" r="9.71"/><circle class="b" cx="1112.67" cy="1037.05" r="11.66"/><circle class="b" cx="1151.72" cy="1037.05" r="6.8"/><circle class="b" cx="1190.78" cy="1037.05" r="10.2"/><circle class="b" cx="1229.82" cy="1037.05" r="10.69"/><circle class="b" cx="1268.88" cy="1037.05" r="11.17"/><circle class="b" cx="1307.92" cy="1037.05" r="8.74"/><circle class="b" cx="1346.97" cy="1037.05" r="12.14"/><circle class="b" cx="1386.03" cy="1037.05" r="11.9"/><circle class="b" cx="1425.07" cy="1037.05" r="4.61"/><circle class="b" cx="1464.12" cy="1037.05" r="7.29"/><circle class="b" cx="1503.17" cy="1037.05" r="5.34"/><circle class="b" cx="1542.22" cy="1037.05" r="8.26"/><circle class="b" cx="1581.27" cy="1037.05" r="5.83"/><circle class="b" cx="1620.32" cy="1037.05" r="11.17"/><circle class="b" cx="1659.38" cy="1037.05" r="7.04"/>
<circle class="r" cx="526.92" cy="1076.05" r="7.77"/><circle class="r" cx="565.97" cy="1076.05" r="8.74"/><circle class="b" cx="605.02" cy="1076.05" r="4.37"/><circle class="b" cx="644.07" cy="1076.05" r="4.86"/><circle class="r" cx="683.12" cy="1076.05" r="4.61"/><circle class="b" cx="722.17" cy="1076.05" r="1.7"/><circle class="b" cx="761.22" cy="1076.05" r="9.71"/><circle class="b" cx="800.27" cy="1076.05" r="6.8"/><circle class="b" cx="839.32" cy="1076.05" r="10.69"/><circle class="b" cx="878.38" cy="1076.05" r="11.66"/><circle class="b" cx="917.42" cy="1076.05" r="8.26"/><circle class="b" cx="956.47" cy="1076.05" r="10.2"/><circle class="b" cx="995.52" cy="1076.05" r="5.83"/><circle class="b" cx="1034.57" cy="1076.05" r="9.71"/><ellipse class="b" cx="1073.62" cy="1076.05" rx="18.5" ry="18.1"/><circle class="b" cx="1112.67" cy="1076.05" r="10.69"/><circle class="b" cx="1151.72" cy="1076.05" r="9.71"/><circle class="b" cx="1190.78" cy="1076.05" r="6.07"/><circle class="b" cx="1229.82" cy="1076.05" r="8.74"/><circle class="b" cx="1268.88" cy="1076.05" r="11.17"/><circle class="b" cx="1307.92" cy="1076.05" r="9.71"/><circle class="b" cx="1346.97" cy="1076.05" r="7.77"/><circle class="b" cx="1386.03" cy="1076.05" r="9.23"/><circle class="b" cx="1425.07" cy="1076.05" r="8.26"/><circle class="b" cx="1464.12" cy="1076.05" r="8.26"/><circle class="b" cx="1503.17" cy="1076.05" r="7.77"/><circle class="r" cx="1542.22" cy="1076.05" r="3.16"/><circle class="b" cx="1581.27" cy="1076.05" r="8.01"/><circle class="b" cx="1620.32" cy="1076.05" r="6.56"/><circle class="b" cx="1659.38" cy="1076.05" r="7.29"/>
<circle class="r" cx="526.92" cy="1115.05" r="6.07"/><circle class="b" cx="565.97" cy="1115.05" r="5.59"/><circle class="b" cx="605.02" cy="1115.05" r="4.86"/><circle class="b" cx="644.07" cy="1115.05" r="1.7"/><circle class="r" cx="683.12" cy="1115.05" r="3.89"/><circle class="b" cx="722.17" cy="1115.05" r="3.64"/><circle class="b" cx="761.22" cy="1115.05" r="12.87"/><circle class="b" cx="800.27" cy="1115.05" r="6.8"/><circle class="b" cx="839.32" cy="1115.05" r="9.71"/><circle class="b" cx="878.38" cy="1115.05" r="8.74"/><circle class="b" cx="917.42" cy="1115.05" r="7.53"/><circle class="b" cx="956.47" cy="1115.05" r="8.5"/><circle class="r" cx="995.52" cy="1115.05" r="1.7"/><circle class="b" cx="1034.57" cy="1115.05" r="11.66"/><circle class="b" cx="1073.62" cy="1115.05" r="10.69"/><ellipse class="b" cx="1112.67" cy="1115.05" rx="18.5" ry="18.1"/><circle class="b" cx="1151.72" cy="1115.05" r="8.74"/><circle class="r" cx="1190.78" cy="1115.05" r="3.64"/><circle class="b" cx="1229.82" cy="1115.05" r="8.26"/><circle class="b" cx="1268.88" cy="1115.05" r="9.23"/><circle class="b" cx="1307.92" cy="1115.05" r="4.37"/><circle class="b" cx="1346.97" cy="1115.05" r="7.77"/><circle class="b" cx="1386.03" cy="1115.05" r="10.2"/><circle class="b" cx="1425.07" cy="1115.05" r="7.29"/><circle class="b" cx="1464.12" cy="1115.05" r="6.31"/><circle class="b" cx="1503.17" cy="1115.05" r="5.1"/><circle class="b" cx="1542.22" cy="1115.05" r="7.77"/><circle class="b" cx="1581.27" cy="1115.05" r="6.07"/><circle class="b" cx="1620.32" cy="1115.05" r="10.93"/><circle class="b" cx="1659.38" cy="1115.05" r="6.56"/>
<circle class="b" cx="526.92" cy="1154.05" r="5.83"/><circle class="b" cx="565.97" cy="1154.05" r="4.86"/><circle class="b" cx="605.02" cy="1154.05" r="7.77"/><circle class="b" cx="644.07" cy="1154.05" r="5.59"/><circle class="b" cx="683.12" cy="1154.05" r="5.59"/><circle class="b" cx="722.17" cy="1154.05" r="7.77"/><circle class="b" cx="761.22" cy="1154.05" r="8.74"/><circle class="r" cx="800.27" cy="1154.05" r="2.43"/><circle class="b" cx="839.32" cy="1154.05" r="9.71"/><circle class="b" cx="878.38" cy="1154.05" r="9.71"/><circle class="b" cx="917.42" cy="1154.05" r="6.8"/><circle class="b" cx="956.47" cy="1154.05" r="2.67"/><circle class="b" cx="995.52" cy="1154.05" r="4.61"/><circle class="b" cx="1034.57" cy="1154.05" r="6.8"/><circle class="b" cx="1073.62" cy="1154.05" r="9.71"/><circle class="b" cx="1112.67" cy="1154.05" r="8.74"/><ellipse class="b" cx="1151.72" cy="1154.05" rx="18.5" ry="18.1"/><circle class="r" cx="1190.78" cy="1154.05" r="5.59"/><circle class="r" cx="1229.82" cy="1154.05" r="4.61"/><circle class="b" cx="1268.88" cy="1154.05" r="9.71"/><circle class="b" cx="1307.92" cy="1154.05" r="5.59"/><circle class="r" cx="1346.97" cy="1154.05" r="6.31"/><circle class="b" cx="1386.03" cy="1154.05" r="5.83"/><circle class="b" cx="1425.07" cy="1154.05" r="4.61"/><circle class="b" cx="1464.12" cy="1154.05" r="7.29"/><circle class="b" cx="1503.17" cy="1154.05" r="8.26"/><circle class="b" cx="1542.22" cy="1154.05" r="6.8"/><circle class="r" cx="1581.27" cy="1154.05" r="7.29"/><circle class="b" cx="1620.32" cy="1154.05" r="7.04"/><circle class="b" cx="1659.38" cy="1154.05" r="6.31"/>
<circle class="r" cx="526.92" cy="1193.05" r="5.83"/><circle class="r" cx="565.97" cy="1193.05" r="4.86"/><circle class="r" cx="605.02" cy="1193.05" r="6.8"/><circle class="b" cx="644.07" cy="1193.05" r="5.1"/><circle class="r" cx="683.12" cy="1193.05" r="4.61"/><circle class="b" cx="722.17" cy="1193.05" r="7.53"/><circle class="b" cx="761.22" cy="1193.05" r="8.74"/><circle class="b" cx="800.27" cy="1193.05" r="4.61"/><circle class="b" cx="839.32" cy="1193.05" r="6.56"/><circle class="r" cx="878.38" cy="1193.05" r="3.16"/><circle class="b" cx="917.42" cy="1193.05" r="3.64"/><circle class="b" cx="956.47" cy="1193.05" r="8.74"/><circle class="b" cx="995.52" cy="1193.05" r="8.74"/><circle class="b" cx="1034.57" cy="1193.05" r="10.2"/><circle class="b" cx="1073.62" cy="1193.05" r="6.07"/><circle class="r" cx="1112.67" cy="1193.05" r="3.64"/><circle class="r" cx="1151.72" cy="1193.05" r="5.59"/><ellipse class="b" cx="1190.78" cy="1193.05" rx="18.5" ry="18.1"/><circle class="b" cx="1229.82" cy="1193.05" r="8.74"/><circle class="b" cx="1268.88" cy="1193.05" r="7.53"/><circle class="b" cx="1307.92" cy="1193.05" r="10.44"/><circle class="b" cx="1346.97" cy="1193.05" r="6.56"/><circle class="b" cx="1386.03" cy="1193.05" r="9.47"/><circle class="b" cx="1425.07" cy="1193.05" r="6.8"/><circle class="r" cx="1464.12" cy="1193.05" r="6.31"/><circle class="r" cx="1503.17" cy="1193.05" r="3.16"/><circle class="r" cx="1542.22" cy="1193.05" r="4.37"/><circle class="b" cx="1581.27" cy="1193.05" r="4.37"/><circle class="b" cx="1620.32" cy="1193.05" r="4.37"/><circle class="r" cx="1659.38" cy="1193.05" r="4.86"/>
<circle class="r" cx="526.92" cy="1232.05" r="6.56"/><circle class="b" cx="565.97" cy="1232.05" r="6.31"/><circle class="b" cx="605.02" cy="1232.05" r="8.99"/><circle class="r" cx="644.07" cy="1232.05" r="7.04"/><circle class="b" cx="683.12" cy="1232.05" r="8.74"/><circle class="b" cx="722.17" cy="1232.05" r="4.13"/><circle class="b" cx="761.22" cy="1232.05" r="8.74"/><circle class="b" cx="800.27" cy="1232.05" r="10.93"/><circle class="b" cx="839.32" cy="1232.05" r="9.71"/><circle class="b" cx="878.38" cy="1232.05" r="7.04"/><circle class="b" cx="917.42" cy="1232.05" r="6.8"/><circle class="b" cx="956.47" cy="1232.05" r="8.99"/><circle class="b" cx="995.52" cy="1232.05" r="8.74"/><circle class="b" cx="1034.57" cy="1232.05" r="10.69"/><circle class="b" cx="1073.62" cy="1232.05" r="8.74"/><circle class="b" cx="1112.67" cy="1232.05" r="8.26"/><circle class="r" cx="1151.72" cy="1232.05" r="4.61"/><circle class="b" cx="1190.78" cy="1232.05" r="8.74"/><ellipse class="b" cx="1229.82" cy="1232.05" rx="18.5" ry="18.1"/><circle class="b" cx="1268.88" cy="1232.05" r="9.23"/><circle class="b" cx="1307.92" cy="1232.05" r="2.43"/><circle class="b" cx="1346.97" cy="1232.05" r="8.26"/><circle class="b" cx="1386.03" cy="1232.05" r="9.71"/><circle class="b" cx="1425.07" cy="1232.05" r="6.8"/><circle class="b" cx="1464.12" cy="1232.05" r="7.29"/><circle class="b" cx="1503.17" cy="1232.05" r="5.34"/><circle class="r" cx="1542.22" cy="1232.05" r="3.16"/><circle class="b" cx="1581.27" cy="1232.05" r="5.34"/><circle class="b" cx="1620.32" cy="1232.05" r="2.19"/><circle class="r" cx="1659.38" cy="1232.05" r="4.86"/>
<circle class="r" cx="526.92" cy="1271.05" r="8.74"/><circle class="r" cx="565.97" cy="1271.05" r="5.83"/><circle class="b" cx="605.02" cy="1271.05" r="5.1"/><circle class="b" cx="644.07" cy="1271.05" r="6.07"/><circle class="r" cx="683.12" cy="1271.05" r="5.83"/><circle class="b" cx="722.17" cy="1271.05" r="6.31"/><circle class="b" cx="761.22" cy="1271.05" r="10.93"/><circle class="b" cx="800.27" cy="1271.05" r="7.04"/><circle class="b" cx="839.32" cy="1271.05" r="12.87"/><circle class="b" cx="878.38" cy="1271.05" r="9.96"/><circle class="b" cx="917.42" cy="1271.05" r="7.53"/><circle class="b" cx="956.47" cy="1271.05" r="12.14"/><circle class="b" cx="995.52" cy="1271.05" r="7.53"/><circle class="b" cx="1034.57" cy="1271.05" r="11.17"/><circle class="b" cx="1073.62" cy="1271.05" r="11.17"/><circle class="b" cx="1112.67" cy="1271.05" r="9.23"/><circle class="b" cx="1151.72" cy="1271.05" r="9.71"/><circle class="b" cx="1190.78" cy="1271.05" r="7.53"/><circle class="b" cx="1229.82" cy="1271.05" r="9.23"/><ellipse class="b" cx="1268.88" cy="1271.05" rx="18.5" ry="18.1"/><circle class="b" cx="1307.92" cy="1271.05" r="11.66"/><circle class="b" cx="1346.97" cy="1271.05" r="10.2"/><circle class="b" cx="1386.03" cy="1271.05" r="11.17"/><circle class="b" cx="1425.07" cy="1271.05" r="6.07"/><circle class="b" cx="1464.12" cy="1271.05" r="7.29"/><circle class="b" cx="1503.17" cy="1271.05" r="5.1"/><circle class="b" cx="1542.22" cy="1271.05" r="8.26"/><circle class="b" cx="1581.27" cy="1271.05" r="6.31"/><circle class="b" cx="1620.32" cy="1271.05" r="9.71"/><circle class="b" cx="1659.38" cy="1271.05" r="7.53"/>
<circle class="r" cx="526.92" cy="1310.05" r="3.89"/><circle class="r" cx="565.97" cy="1310.05" r="8.26"/><circle class="r" cx="605.02" cy="1310.05" r="9.23"/><circle class="b" cx="644.07" cy="1310.05" r="6.8"/><circle class="r" cx="683.12" cy="1310.05" r="7.77"/><circle class="r" cx="722.17" cy="1310.05" r="5.1"/><circle class="b" cx="761.22" cy="1310.05" r="6.07"/><circle class="r" cx="800.27" cy="1310.05" r="2.19"/><circle class="b" cx="839.32" cy="1310.05" r="7.77"/><circle class="b" cx="878.38" cy="1310.05" r="8.26"/><circle class="b" cx="917.42" cy="1310.05" r="6.07"/><circle class="b" cx="956.47" cy="1310.05" r="11.17"/><circle class="b" cx="995.52" cy="1310.05" r="5.59"/><circle class="b" cx="1034.57" cy="1310.05" r="8.74"/><circle class="b" cx="1073.62" cy="1310.05" r="9.71"/><circle class="b" cx="1112.67" cy="1310.05" r="4.37"/><circle class="b" cx="1151.72" cy="1310.05" r="5.59"/><circle class="b" cx="1190.78" cy="1310.05" r="10.44"/><circle class="b" cx="1229.82" cy="1310.05" r="2.43"/><circle class="b" cx="1268.88" cy="1310.05" r="11.66"/><ellipse class="b" cx="1307.92" cy="1310.05" rx="18.5" ry="18.1"/><circle class="b" cx="1346.97" cy="1310.05" r="5.1"/><circle class="b" cx="1386.03" cy="1310.05" r="11.17"/><circle class="b" cx="1425.07" cy="1310.05" r="5.83"/><circle class="r" cx="1464.12" cy="1310.05" r="4.37"/><circle class="b" cx="1503.17" cy="1310.05" r="5.1"/><circle class="b" cx="1542.22" cy="1310.05" r="2.19"/><circle class="r" cx="1581.27" cy="1310.05" r="6.07"/><circle class="b" cx="1620.32" cy="1310.05" r="5.1"/><circle class="b" cx="1659.38" cy="1310.05" r="5.34"/>
<circle class="r" cx="526.92" cy="1349.05" r="8.26"/><circle class="r" cx="565.97" cy="1349.05" r="7.77"/><circle class="r" cx="605.02" cy="1349.05" r="7.29"/><circle class="r" cx="644.07" cy="1349.05" r="3.89"/><circle class="r" cx="683.12" cy="1349.05" r="6.31"/><circle class="r" cx="722.17" cy="1349.05" r="4.13"/><circle class="b" cx="761.22" cy="1349.05" r="9.23"/><circle class="b" cx="800.27" cy="1349.05" r="6.31"/><circle class="b" cx="839.32" cy="1349.05" r="5.83"/><circle class="b" cx="878.38" cy="1349.05" r="8.26"/><circle class="b" cx="917.42" cy="1349.05" r="11.17"/><circle class="b" cx="956.47" cy="1349.05" r="8.26"/><circle class="b" cx="995.52" cy="1349.05" r="9.23"/><circle class="b" cx="1034.57" cy="1349.05" r="12.14"/><circle class="b" cx="1073.62" cy="1349.05" r="7.77"/><circle class="b" cx="1112.67" cy="1349.05" r="7.77"/><circle class="r" cx="1151.72" cy="1349.05" r="6.31"/><circle class="b" cx="1190.78" cy="1349.05" r="6.56"/><circle class="b" cx="1229.82" cy="1349.05" r="8.26"/><circle class="b" cx="1268.88" cy="1349.05" r="10.2"/><circle class="b" cx="1307.92" cy="1349.05" r="5.1"/><ellipse class="b" cx="1346.97" cy="1349.05" rx="18.5" ry="18.1"/><circle class="b" cx="1386.03" cy="1349.05" r="11.17"/><circle class="b" cx="1425.07" cy="1349.05" r="8.26"/><circle class="r" cx="1464.12" cy="1349.05" r="5.34"/><circle class="b" cx="1503.17" cy="1349.05" r="5.83"/><circle class="b" cx="1542.22" cy="1349.05" r="4.13"/><circle class="b" cx="1581.27" cy="1349.05" r="9.23"/><circle class="b" cx="1620.32" cy="1349.05" r="9.23"/><circle class="b" cx="1659.38" cy="1349.05" r="3.16"/>
<circle class="r" cx="526.92" cy="1388.05" r="9.71"/><circle class="r" cx="565.97" cy="1388.05" r="8.26"/><circle class="r" cx="605.02" cy="1388.05" r="5.83"/><circle class="r" cx="644.07" cy="1388.05" r="6.31"/><circle class="r" cx="683.12" cy="1388.05" r="7.29"/><circle class="r" cx="722.17" cy="1388.05" r="5.1"/><circle class="b" cx="761.22" cy="1388.05" r="9.23"/><circle class="b" cx="800.27" cy="1388.05" r="11.17"/><circle class="b" cx="839.32" cy="1388.05" r="8.26"/><circle class="b" cx="878.38" cy="1388.05" r="11.17"/><circle class="b" cx="917.42" cy="1388.05" r="7.29"/><circle class="b" cx="956.47" cy="1388.05" r="8.26"/><circle class="b" cx="995.52" cy="1388.05" r="9.96"/><circle class="b" cx="1034.57" cy="1388.05" r="11.9"/><circle class="b" cx="1073.62" cy="1388.05" r="9.23"/><circle class="b" cx="1112.67" cy="1388.05" r="10.2"/><circle class="b" cx="1151.72" cy="1388.05" r="5.83"/><circle class="b" cx="1190.78" cy="1388.05" r="9.47"/><circle class="b" cx="1229.82" cy="1388.05" r="9.71"/><circle class="b" cx="1268.88" cy="1388.05" r="11.17"/><circle class="b" cx="1307.92" cy="1388.05" r="11.17"/><circle class="b" cx="1346.97" cy="1388.05" r="11.17"/><ellipse class="b" cx="1386.03" cy="1388.05" rx="18.5" ry="18.1"/><circle class="b" cx="1425.07" cy="1388.05" r="5.34"/><circle class="r" cx="1464.12" cy="1388.05" r="2.19"/><circle class="b" cx="1503.17" cy="1388.05" r="4.37"/><circle class="b" cx="1542.22" cy="1388.05" r="4.61"/><circle class="b" cx="1581.27" cy="1388.05" r="6.31"/><circle class="b" cx="1620.32" cy="1388.05" r="9.23"/><circle class="b" cx="1659.38" cy="1388.05" r="4.13"/>
<circle class="b" cx="526.92" cy="1427.05" r="4.37"/><circle class="b" cx="565.97" cy="1427.05" r="6.31"/><circle class="b" cx="605.02" cy="1427.05" r="8.26"/><circle class="b" cx="644.07" cy="1427.05" r="8.74"/><circle class="r" cx="683.12" cy="1427.05" r="4.13"/><circle class="b" cx="722.17" cy="1427.05" r="7.29"/><circle class="b" cx="761.22" cy="1427.05" r="7.29"/><circle class="b" cx="800.27" cy="1427.05" r="5.34"/><circle class="b" cx="839.32" cy="1427.05" r="8.5"/><circle class="b" cx="878.38" cy="1427.05" r="7.29"/><circle class="b" cx="917.42" cy="1427.05" r="7.29"/><circle class="b" cx="956.47" cy="1427.05" r="7.29"/><circle class="b" cx="995.52" cy="1427.05" r="7.29"/><circle class="b" cx="1034.57" cy="1427.05" r="4.61"/><circle class="b" cx="1073.62" cy="1427.05" r="8.26"/><circle class="b" cx="1112.67" cy="1427.05" r="7.29"/><circle class="b" cx="1151.72" cy="1427.05" r="4.61"/><circle class="b" cx="1190.78" cy="1427.05" r="6.8"/><circle class="b" cx="1229.82" cy="1427.05" r="6.8"/><circle class="b" cx="1268.88" cy="1427.05" r="6.07"/><circle class="b" cx="1307.92" cy="1427.05" r="5.83"/><circle class="b" cx="1346.97" cy="1427.05" r="8.26"/><circle class="b" cx="1386.03" cy="1427.05" r="5.34"/><ellipse class="b" cx="1425.07" cy="1427.05" rx="18.5" ry="18.1"/><circle class="b" cx="1464.12" cy="1427.05" r="6.07"/><circle class="b" cx="1503.17" cy="1427.05" r="7.29"/><circle class="b" cx="1542.22" cy="1427.05" r="8.26"/><circle class="b" cx="1581.27" cy="1427.05" r="7.77"/><circle class="b" cx="1620.32" cy="1427.05" r="7.29"/><circle class="r" cx="1659.38" cy="1427.05" r="4.86"/>
<circle class="b" cx="526.92" cy="1466.05" r="4.13"/><circle class="b" cx="565.97" cy="1466.05" r="6.31"/><circle class="b" cx="605.02" cy="1466.05" r="6.31"/><circle class="b" cx="644.07" cy="1466.05" r="7.29"/><circle class="b" cx="683.12" cy="1466.05" r="7.29"/><circle class="b" cx="722.17" cy="1466.05" r="9.23"/><circle class="b" cx="761.22" cy="1466.05" r="7.29"/><circle class="r" cx="800.27" cy="1466.05" r="1.94"/><circle class="b" cx="839.32" cy="1466.05" r="7.53"/><circle class="b" cx="878.38" cy="1466.05" r="10.2"/><circle class="r" cx="917.42" cy="1466.05" r="3.16"/><circle class="b" cx="956.47" cy="1466.05" r="5.1"/><circle class="b" cx="995.52" cy="1466.05" r="5.34"/><circle class="b" cx="1034.57" cy="1466.05" r="7.29"/><circle class="b" cx="1073.62" cy="1466.05" r="8.26"/><circle class="b" cx="1112.67" cy="1466.05" r="6.31"/><circle class="b" cx="1151.72" cy="1466.05" r="7.29"/><circle class="r" cx="1190.78" cy="1466.05" r="6.31"/><circle class="b" cx="1229.82" cy="1466.05" r="7.29"/><circle class="b" cx="1268.88" cy="1466.05" r="7.29"/><circle class="r" cx="1307.92" cy="1466.05" r="4.37"/><circle class="r" cx="1346.97" cy="1466.05" r="5.34"/><circle class="r" cx="1386.03" cy="1466.05" r="2.19"/><circle class="b" cx="1425.07" cy="1466.05" r="6.07"/><ellipse class="b" cx="1464.12" cy="1466.05" rx="18.5" ry="18.1"/><circle class="r" cx="1503.17" cy="1466.05" r="5.34"/><circle class="b" cx="1542.22" cy="1466.05" r="2.19"/><circle class="b" cx="1581.27" cy="1466.05" r="9.23"/><circle class="b" cx="1620.32" cy="1466.05" r="5.1"/><circle class="b" cx="1659.38" cy="1466.05" r="5.34"/>
<circle class="r" cx="526.92" cy="1505.05" r="4.13"/><circle class="r" cx="565.97" cy="1505.05" r="3.64"/><circle class="r" cx="605.02" cy="1505.05" r="5.1"/><circle class="b" cx="644.07" cy="1505.05" r="3.16"/><circle class="b" cx="683.12" cy="1505.05" r="4.13"/><circle class="b" cx="722.17" cy="1505.05" r="4.13"/><circle class="r" cx="761.22" cy="1505.05" r="5.34"/><circle class="r" cx="800.27" cy="1505.05" r="6.31"/><circle class="b" cx="839.32" cy="1505.05" r="5.1"/><circle class="b" cx="878.38" cy="1505.05" r="7.53"/><circle class="b" cx="917.42" cy="1505.05" r="7.77"/><circle class="b" cx="956.47" cy="1505.05" r="6.31"/><circle class="b" cx="995.52" cy="1505.05" r="3.16"/><circle class="b" cx="1034.57" cy="1505.05" r="5.34"/><circle class="b" cx="1073.62" cy="1505.05" r="7.77"/><circle class="b" cx="1112.67" cy="1505.05" r="5.1"/><circle class="b" cx="1151.72" cy="1505.05" r="8.26"/><circle class="r" cx="1190.78" cy="1505.05" r="3.16"/><circle class="b" cx="1229.82" cy="1505.05" r="5.34"/><circle class="b" cx="1268.88" cy="1505.05" r="5.1"/><circle class="b" cx="1307.92" cy="1505.05" r="5.1"/><circle class="b" cx="1346.97" cy="1505.05" r="5.83"/><circle class="b" cx="1386.03" cy="1505.05" r="4.37"/><circle class="b" cx="1425.07" cy="1505.05" r="7.29"/><circle class="r" cx="1464.12" cy="1505.05" r="5.34"/><ellipse class="b" cx="1503.17" cy="1505.05" rx="18.5" ry="18.1"/><circle class="b" cx="1542.22" cy="1505.05" r="10.2"/><circle class="r" cx="1581.27" cy="1505.05" r="5.34"/><circle class="b" cx="1620.32" cy="1505.05" r="4.13"/><circle class="b" cx="1659.38" cy="1505.05" r="11.41"/>
<circle class="b" cx="526.92" cy="1544.05" r="4.13"/><circle class="b" cx="565.97" cy="1544.05" r="7.29"/><circle class="b" cx="605.02" cy="1544.05" r="7.29"/><circle class="r" cx="644.07" cy="1544.05" r="7.29"/><circle class="b" cx="683.12" cy="1544.05" r="5.1"/><circle class="r" cx="722.17" cy="1544.05" r="5.83"/><circle class="b" cx="761.22" cy="1544.05" r="8.74"/><circle class="b" cx="800.27" cy="1544.05" r="4.61"/><circle class="b" cx="839.32" cy="1544.05" r="6.56"/><circle class="b" cx="878.38" cy="1544.05" r="7.04"/><circle class="b" cx="917.42" cy="1544.05" r="4.13"/><circle class="r" cx="956.47" cy="1544.05" r="2.91"/><circle class="r" cx="995.52" cy="1544.05" r="5.34"/><circle class="b" cx="1034.57" cy="1544.05" r="8.26"/><circle class="r" cx="1073.62" cy="1544.05" r="3.16"/><circle class="b" cx="1112.67" cy="1544.05" r="7.77"/><circle class="b" cx="1151.72" cy="1544.05" r="6.8"/><circle class="r" cx="1190.78" cy="1544.05" r="4.37"/><circle class="r" cx="1229.82" cy="1544.05" r="3.16"/><circle class="b" cx="1268.88" cy="1544.05" r="8.26"/><circle class="b" cx="1307.92" cy="1544.05" r="2.19"/><circle class="b" cx="1346.97" cy="1544.05" r="4.13"/><circle class="b" cx="1386.03" cy="1544.05" r="4.61"/><circle class="b" cx="1425.07" cy="1544.05" r="8.26"/><circle class="b" cx="1464.12" cy="1544.05" r="2.19"/><circle class="b" cx="1503.17" cy="1544.05" r="10.2"/><ellipse class="b" cx="1542.22" cy="1544.05" rx="18.5" ry="18.1"/><circle class="b" cx="1581.27" cy="1544.05" r="6.31"/><circle class="b" cx="1620.32" cy="1544.05" r="9.71"/><circle class="b" cx="1659.38" cy="1544.05" r="7.53"/>
<circle class="r" cx="526.92" cy="1583.05" r="3.64"/><circle class="b" cx="565.97" cy="1583.05" r="7.53"/><circle class="r" cx="605.02" cy="1583.05" r="5.59"/><circle class="b" cx="644.07" cy="1583.05" r="8.26"/><circle class="r" cx="683.12" cy="1583.05" r="6.31"/><circle class="r" cx="722.17" cy="1583.05" r="6.07"/><circle class="b" cx="761.22" cy="1583.05" r="4.37"/><circle class="b" cx="800.27" cy="1583.05" r="6.31"/><circle class="b" cx="839.32" cy="1583.05" r="7.53"/><circle class="b" cx="878.38" cy="1583.05" r="8.26"/><circle class="b" cx="917.42" cy="1583.05" r="7.77"/><circle class="r" cx="956.47" cy="1583.05" r="4.13"/><circle class="b" cx="995.52" cy="1583.05" r="10.2"/><circle class="b" cx="1034.57" cy="1583.05" r="5.83"/><circle class="b" cx="1073.62" cy="1583.05" r="8.01"/><circle class="b" cx="1112.67" cy="1583.05" r="6.07"/><circle class="r" cx="1151.72" cy="1583.05" r="7.29"/><circle class="b" cx="1190.78" cy="1583.05" r="4.37"/><circle class="b" cx="1229.82" cy="1583.05" r="5.34"/><circle class="b" cx="1268.88" cy="1583.05" r="6.31"/><circle class="r" cx="1307.92" cy="1583.05" r="6.07"/><circle class="b" cx="1346.97" cy="1583.05" r="9.23"/><circle class="b" cx="1386.03" cy="1583.05" r="6.31"/><circle class="b" cx="1425.07" cy="1583.05" r="7.77"/><circle class="b" cx="1464.12" cy="1583.05" r="9.23"/><circle class="r" cx="1503.17" cy="1583.05" r="5.34"/><circle class="b" cx="1542.22" cy="1583.05" r="6.31"/><ellipse class="b" cx="1581.27" cy="1583.05" rx="18.5" ry="18.1"/><circle class="b" cx="1620.32" cy="1583.05" r="8.01"/><circle class="b" cx="1659.38" cy="1583.05" r="7.04"/>
<circle class="b" cx="526.92" cy="1622.05" r="2.43"/><circle class="b" cx="565.97" cy="1622.05" r="6.07"/><circle class="b" cx="605.02" cy="1622.05" r="5.34"/><circle class="b" cx="644.07" cy="1622.05" r="4.13"/><circle class="b" cx="683.12" cy="1622.05" r="3.16"/><circle class="b" cx="722.17" cy="1622.05" r="5.1"/><circle class="b" cx="761.22" cy="1622.05" r="11.9"/><circle class="r" cx="800.27" cy="1622.05" r="5.1"/><circle class="b" cx="839.32" cy="1622.05" r="8.01"/><circle class="b" cx="878.38" cy="1622.05" r="7.29"/><circle class="b" cx="917.42" cy="1622.05" r="9.23"/><circle class="b" cx="956.47" cy="1622.05" r="8.26"/><circle class="b" cx="995.52" cy="1622.05" r="6.31"/><circle class="b" cx="1034.57" cy="1622.05" r="11.17"/><circle class="b" cx="1073.62" cy="1622.05" r="6.56"/><circle class="b" cx="1112.67" cy="1622.05" r="10.93"/><circle class="b" cx="1151.72" cy="1622.05" r="7.04"/><circle class="b" cx="1190.78" cy="1622.05" r="4.37"/><circle class="b" cx="1229.82" cy="1622.05" r="2.19"/><circle class="b" cx="1268.88" cy="1622.05" r="9.71"/><circle class="b" cx="1307.92" cy="1622.05" r="5.1"/><circle class="b" cx="1346.97" cy="1622.05" r="9.23"/><circle class="b" cx="1386.03" cy="1622.05" r="9.23"/><circle class="b" cx="1425.07" cy="1622.05" r="7.29"/><circle class="b" cx="1464.12" cy="1622.05" r="5.1"/><circle class="b" cx="1503.17" cy="1622.05" r="4.13"/><circle class="b" cx="1542.22" cy="1622.05" r="9.71"/><circle class="b" cx="1581.27" cy="1622.05" r="8.01"/><ellipse class="b" cx="1620.32" cy="1622.05" rx="18.5" ry="18.1"/><circle class="b" cx="1659.38" cy="1622.05" r="8.01"/>
<circle class="r" cx="526.92" cy="1660.65" r="5.34"/><circle class="r" cx="565.97" cy="1660.65" r="5.83"/><circle class="r" cx="605.02" cy="1660.65" r="5.83"/><circle class="b" cx="644.07" cy="1660.65" r="7.29"/><circle class="b" cx="683.12" cy="1660.65" r="3.89"/><circle class="b" cx="722.17" cy="1660.65" r="5.1"/><circle class="b" cx="761.22" cy="1660.65" r="5.83"/><circle class="b" cx="800.27" cy="1660.65" r="4.37"/><circle class="b" cx="839.32" cy="1660.65" r="8.74"/><circle class="b" cx="878.38" cy="1660.65" r="6.31"/><circle class="b" cx="917.42" cy="1660.65" r="7.77"/><circle class="b" cx="956.47" cy="1660.65" r="6.8"/><circle class="r" cx="995.52" cy="1660.65" r="6.07"/><circle class="b" cx="1034.57" cy="1660.65" r="7.04"/><circle class="b" cx="1073.62" cy="1660.65" r="7.29"/><circle class="b" cx="1112.67" cy="1660.65" r="6.56"/><circle class="b" cx="1151.72" cy="1660.65" r="6.31"/><circle class="r" cx="1190.78" cy="1660.65" r="4.86"/><circle class="r" cx="1229.82" cy="1660.65" r="4.86"/><circle class="b" cx="1268.88" cy="1660.65" r="7.53"/><circle class="b" cx="1307.92" cy="1660.65" r="5.34"/><circle class="b" cx="1346.97" cy="1660.65" r="3.16"/><circle class="b" cx="1386.03" cy="1660.65" r="4.13"/><circle class="r" cx="1425.07" cy="1660.65" r="4.86"/><circle class="b" cx="1464.12" cy="1660.65" r="5.34"/><circle class="b" cx="1503.17" cy="1660.65" r="11.41"/><circle class="b" cx="1542.22" cy="1660.65" r="7.53"/><circle class="b" cx="1581.27" cy="1660.65" r="7.04"/><circle class="b" cx="1620.32" cy="1660.65" r="8.01"/><ellipse class="b" cx="1659.38" cy="1660.65" rx="18.5" ry="18.1"/>
</g>
<g id="table">
<path class="k" stroke-width="4.2" d="M520 1713.2H1672"/>
<path class="k" stroke-width="5" d="M520 1772.6H1672"/>
<path class="k" stroke-width="4" d="M520 2308.2H1672"/>
<text class="c"><tspan x="787.21" y="1749.3" textLength="139.6" lengthAdjust="spacingAndGlyphs">Correlated</tspan> <tspan x="934.11" y="1749.3" textLength="117.28" lengthAdjust="spacingAndGlyphs">variables</tspan></text>
<text class="c"><tspan x="1323.13" y="1749.3" textLength="147.93" lengthAdjust="spacingAndGlyphs">Correlation</tspan></text>
<text class="c"><tspan x="1530.42" y="1749.3" textLength="16.96" lengthAdjust="spacingAndGlyphs">p</tspan> <tspan x="1554.67" y="1749.3" textLength="70.51" lengthAdjust="spacingAndGlyphs">value</tspan></text>
<text class="c"><tspan x="531.6" y="1809.4" textLength="276.26" lengthAdjust="spacingAndGlyphs">Prebiotics/probiotics</tspan> <tspan x="815.23" y="1809.4" textLength="35.72" lengthAdjust="spacingAndGlyphs">vs.</tspan> <tspan x="858.32" y="1809.4" textLength="240.8" lengthAdjust="spacingAndGlyphs">anti-inflammatory</tspan> <tspan x="1106.49" y="1809.4" textLength="170.96" lengthAdjust="spacingAndGlyphs">supplements</tspan></text>
<text class="c"><tspan x="1343.75" y="1809.4" textLength="106.11" lengthAdjust="spacingAndGlyphs">+0.4206</tspan></text>
<text class="c"><tspan x="1532.29" y="1809.4" textLength="90.02" lengthAdjust="spacingAndGlyphs">0.0007</tspan></text>
<text class="c"><tspan x="531.6" y="1868.8" textLength="122.69" lengthAdjust="spacingAndGlyphs">Selenium</tspan> <tspan x="661.66" y="1868.8" textLength="35.71" lengthAdjust="spacingAndGlyphs">vs.</tspan> <tspan x="704.74" y="1868.8" textLength="249.98" lengthAdjust="spacingAndGlyphs">Immunostimulants</tspan></text>
<text class="c"><tspan x="1343.75" y="1868.8" textLength="106.11" lengthAdjust="spacingAndGlyphs">+0.4005</tspan></text>
<text class="c"><tspan x="1532.29" y="1868.8" textLength="90.02" lengthAdjust="spacingAndGlyphs">0.0004</tspan></text>
<text class="c"><tspan x="531.6" y="1928.2" textLength="136.93" lengthAdjust="spacingAndGlyphs">Melatonin</tspan> <tspan x="675.9" y="1928.2" textLength="35.68" lengthAdjust="spacingAndGlyphs">vs.</tspan> <tspan x="718.95" y="1928.2" textLength="129.11" lengthAdjust="spacingAndGlyphs">Anxiolytic</tspan> <tspan x="855.42" y="1928.2" textLength="170.79" lengthAdjust="spacingAndGlyphs">supplements</tspan></text>
<text class="c"><tspan x="1343.75" y="1928.2" textLength="106.11" lengthAdjust="spacingAndGlyphs">+0.3836</tspan></text>
<text class="c"><tspan x="1532.29" y="1928.2" textLength="90.02" lengthAdjust="spacingAndGlyphs">0.0005</tspan></text>
<text class="c"><tspan x="531.6" y="1987.6" textLength="249.68" lengthAdjust="spacingAndGlyphs">Immunostimulants</tspan> <tspan x="788.65" y="1987.6" textLength="35.67" lengthAdjust="spacingAndGlyphs">vs.</tspan> <tspan x="831.68" y="1987.6" textLength="166.52" lengthAdjust="spacingAndGlyphs">Antioxidants</tspan></text>
<text class="c"><tspan x="1343.75" y="1987.6" textLength="106.11" lengthAdjust="spacingAndGlyphs">+0.3795</tspan></text>
<text class="c"><tspan x="1532.29" y="1987.6" textLength="90.02" lengthAdjust="spacingAndGlyphs">0.0072</tspan></text>
<text class="c"><tspan x="531.6" y="2047" textLength="275.63" lengthAdjust="spacingAndGlyphs">Prebiotics/probiotics</tspan> <tspan x="814.58" y="2047" textLength="35.64" lengthAdjust="spacingAndGlyphs">vs.</tspan> <tspan x="857.58" y="2047" textLength="130.31" lengthAdjust="spacingAndGlyphs">Coenzime</tspan> <tspan x="995.24" y="2047" textLength="54.9" lengthAdjust="spacingAndGlyphs">Q10</tspan></text>
<text class="c"><tspan x="1343.75" y="2047" textLength="106.11" lengthAdjust="spacingAndGlyphs">+0.3672</tspan></text>
<text class="c"><tspan x="1532.29" y="2047" textLength="90.02" lengthAdjust="spacingAndGlyphs">0.0005</tspan></text>
<text class="c"><tspan x="531.6" y="2106.4" textLength="314.71" lengthAdjust="spacingAndGlyphs">Antineuralgic/anxiolytic</tspan> <tspan x="853.68" y="2106.4" textLength="73.78" lengthAdjust="spacingAndGlyphs">drugs</tspan> <tspan x="934.84" y="2106.4" textLength="35.73" lengthAdjust="spacingAndGlyphs">vs.</tspan> <tspan x="977.95" y="2106.4" textLength="214.56" lengthAdjust="spacingAndGlyphs">Antidepressants</tspan></text>
<text class="c"><tspan x="1343.75" y="2106.4" textLength="106.11" lengthAdjust="spacingAndGlyphs">+0.3612</tspan></text>
<text class="c"><tspan x="1532.29" y="2106.4" textLength="90.02" lengthAdjust="spacingAndGlyphs">0.0002</tspan></text>
<text class="c"><tspan x="531.6" y="2165.8" textLength="139.46" lengthAdjust="spacingAndGlyphs">Relaxation</tspan> <tspan x="678.43" y="2165.8" textLength="145.88" lengthAdjust="spacingAndGlyphs">techniques</tspan> <tspan x="831.68" y="2165.8" textLength="35.7" lengthAdjust="spacingAndGlyphs">vs.</tspan> <tspan x="874.75" y="2165.8" textLength="129.19" lengthAdjust="spacingAndGlyphs">Anxiolytic</tspan> <tspan x="1011.31" y="2165.8" textLength="170.89" lengthAdjust="spacingAndGlyphs">supplements</tspan></text>
<text class="c"><tspan x="1343.75" y="2165.8" textLength="106.11" lengthAdjust="spacingAndGlyphs">+0.3501</tspan></text>
<text class="c"><tspan x="1532.29" y="2165.8" textLength="90.02" lengthAdjust="spacingAndGlyphs">0.0061</tspan></text>
<text class="c"><tspan x="531.6" y="2225.2" textLength="214.11" lengthAdjust="spacingAndGlyphs">PUFA_Omega_3</tspan>  <tspan x="760.35" y="2225.2" textLength="35.47" lengthAdjust="spacingAndGlyphs">vs.</tspan> <tspan x="803.15" y="2225.2" textLength="274.37" lengthAdjust="spacingAndGlyphs">Prebiotics/probiotics</tspan></text>
<text class="c"><tspan x="1343.75" y="2225.2" textLength="106.11" lengthAdjust="spacingAndGlyphs">+0.3449</tspan></text>
<text class="c"><tspan x="1532.29" y="2225.2" textLength="90.02" lengthAdjust="spacingAndGlyphs">0.0018</tspan></text>
<text class="c"><tspan x="531.6" y="2284.6" textLength="154.2" lengthAdjust="spacingAndGlyphs">Tryptophan</tspan> <tspan x="693.17" y="2284.6" textLength="35.7" lengthAdjust="spacingAndGlyphs">vs.</tspan> <tspan x="736.23" y="2284.6" textLength="249.88" lengthAdjust="spacingAndGlyphs">Immunostimulants</tspan></text>
<text class="c"><tspan x="1343.75" y="2284.6" textLength="106.11" lengthAdjust="spacingAndGlyphs">+0.3442</tspan></text>
<text class="c"><tspan x="1532.29" y="2284.6" textLength="90.02" lengthAdjust="spacingAndGlyphs">0.0005</tspan></text>
</g>
</svg>
</body></html>
